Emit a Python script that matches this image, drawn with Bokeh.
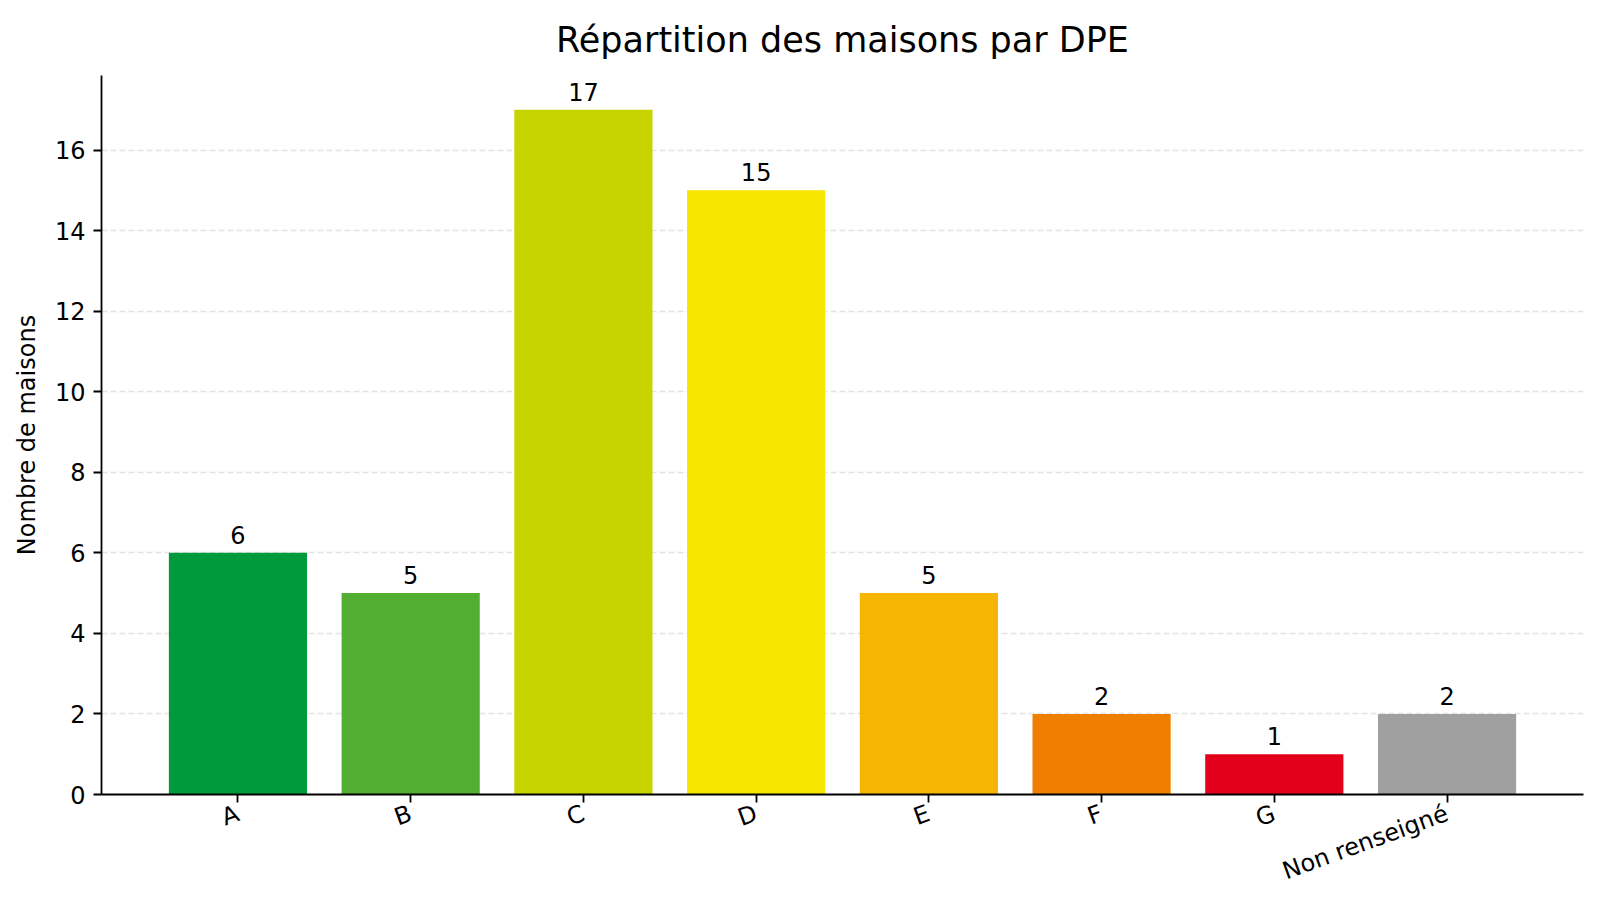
import math
from bokeh.plotting import figure
from bokeh.models import ColumnDataSource, Range1d, FixedTicker
from bokeh.core.properties import value
from bokeh.embed import file_html
from bokeh.resources import INLINE

categories = ["A", "B", "C", "D", "E", "F", "G", "Non renseigné"]
counts = [6, 5, 17, 15, 5, 2, 1, 2]
colors = ["#009A3C", "#52AE32", "#C8D400", "#F6E600", "#F6B500", "#F07F00", "#E2001A", "#A0A0A0"]
y_ticks = [0, 2, 4, 6, 8, 10, 12, 14, 16]

FONT = "DejaVu Sans"
xs = list(range(len(categories)))
src = ColumnDataSource(dict(x=xs, top=counts, color=colors, label=[str(c) for c in counts]))

p = figure(width=1584, height=901, output_backend="svg", toolbar_location=None,
           x_range=Range1d(-0.79, len(categories) - 1 + 0.79),
           y_range=Range1d(0, max(counts) * 1.05),
           min_border_left=101, min_border_right=1, min_border_top=75, min_border_bottom=107,
           title="Répartition des maisons par DPE")

p.title.align = "center"
p.title.vertical_align = "middle"
p.title.text_font = FONT
p.title.text_font_size = "35px"
p.title.text_font_style = "normal"
p.title.text_color = "black"
p.title.standoff = 30

p.vbar(x="x", top="top", width=0.8, bottom=0, color="color", line_color=None, source=src)
p.text(x="x", y="top", text="label", source=src, text_align="center", text_baseline="bottom",
       y_offset=-9, text_font=value(FONT), text_font_size="24px", text_color="black")

p.outline_line_color = None
p.xgrid.grid_line_color = None
p.ygrid.grid_line_color = "#e3e3e3"
p.ygrid.grid_line_width = 1.5
p.ygrid.grid_line_dash = "6 3"
p.ygrid.ticker = FixedTicker(ticks=y_ticks)

p.xaxis.ticker = FixedTicker(ticks=xs)
p.xaxis.major_label_overrides = {i: c for i, c in enumerate(categories)}
p.xaxis.major_label_orientation = math.radians(20)
p.yaxis.ticker = FixedTicker(ticks=y_ticks)
p.yaxis.axis_label = "Nombre de maisons"

for ax in (p.xaxis, p.yaxis):
    ax.axis_line_color = "black"
    ax.axis_line_width = 1.8
    ax.major_tick_line_color = "black"
    ax.major_tick_line_width = 1.8
    ax.major_tick_out = 8
    ax.major_tick_in = 0
    ax.minor_tick_line_color = None
    ax.major_label_text_font = FONT
    ax.major_label_text_font_size = "24px"
    ax.major_label_text_color = "black"
    ax.axis_label_text_font = FONT
    ax.axis_label_text_font_size = "24px"
    ax.axis_label_text_font_style = "normal"
    ax.axis_label_text_color = "black"

p.xaxis.major_label_standoff = 10
p.yaxis.major_label_standoff = 8
p.yaxis.axis_label_standoff = 11

open("out.html", "w").write(file_html(p, INLINE))
